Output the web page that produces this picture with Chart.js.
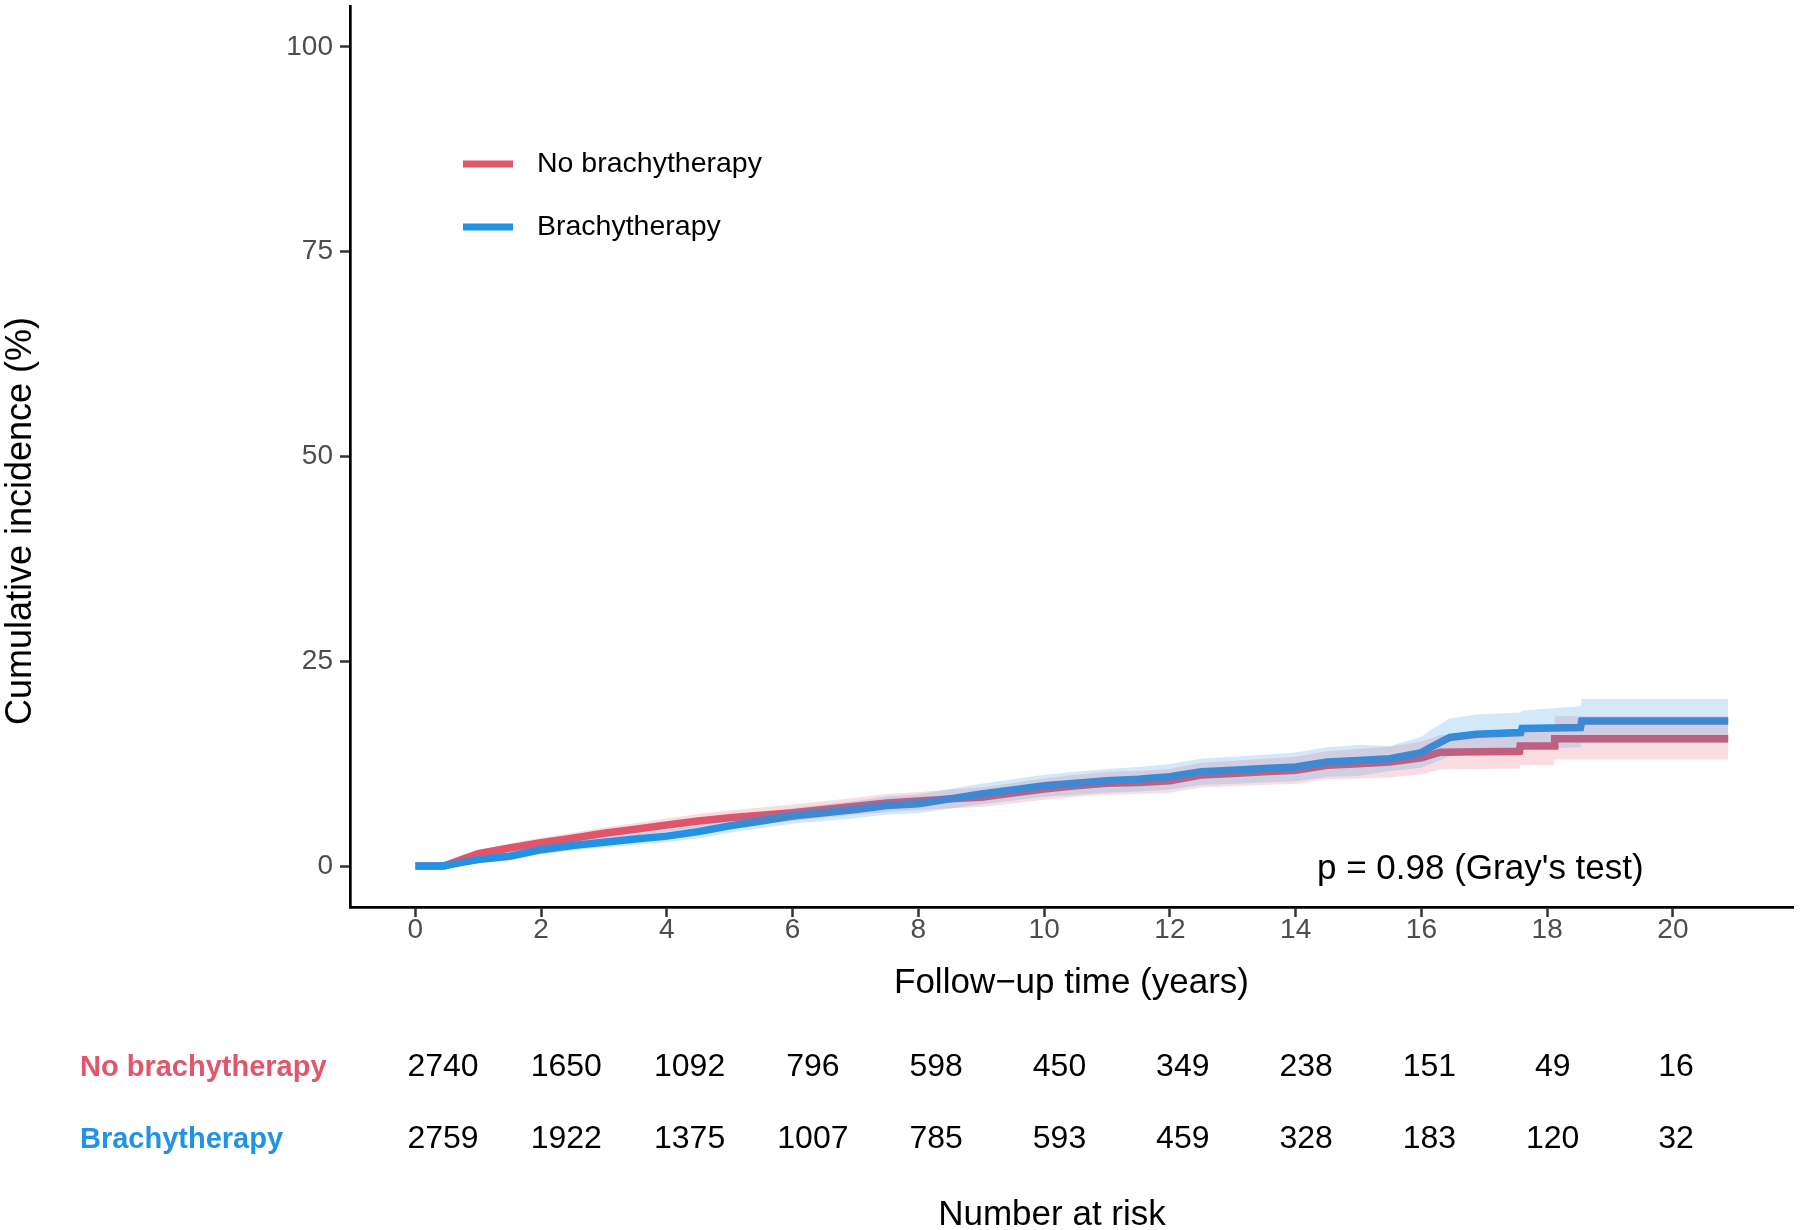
<!DOCTYPE html>
<html lang="en">
<head>
  <meta charset="UTF-8" />
  <title>Cumulative incidence by brachytherapy</title>
  <script src="https://cdn.jsdelivr.net/npm/chart.js"></script>
  <style>
    html, body { margin: 0; padding: 0; background: #fff; }
    #wrap { width: 1800px; height: 1230px; }
  </style>
</head>
<body>
<div id="wrap">
  <canvas id="cif" width="1800" height="1230"></canvas>
</div>

<script>
  // Data (years, cumulative incidence in %)
  // tail points come in pairs where the curve jumps
  const timeNoBrachy = [0, 0.45, 0.7, 1, 1.5, 2, 2.5, 3, 3.5, 4, 4.5, 5, 5.5, 6, 6.5, 7, 7.5, 8, 8.5, 9, 9.5, 10, 10.5, 11, 11.5, 12, 12.5, 13, 13.5, 14, 14.5, 15, 15.5, 16, 16.3, 17.56, 17.57, 18.11, 18.12, 20.88];
  const cifNoBrachy  = [0, 0, 0.7, 1.5, 2.2, 2.85, 3.4, 4.0, 4.5, 5.0, 5.5, 5.9, 6.2, 6.5, 6.9, 7.3, 7.7, 7.95, 8.2, 8.4, 8.9, 9.4, 9.8, 10.1, 10.2, 10.4, 11.1, 11.3, 11.5, 11.7, 12.3, 12.5, 12.7, 13.2, 13.9, 14.0, 14.65, 14.65, 15.55, 15.55];
  const lowNoBrachy  = [0, 0, 0.4, 1.05, 1.65, 2.25, 2.75, 3.3, 3.75, 4.2, 4.65, 5.0, 5.25, 5.5, 5.9, 6.25, 6.6, 6.85, 7.05, 7.2, 7.65, 8.1, 8.45, 8.7, 8.8, 8.95, 9.6, 9.75, 9.9, 10.05, 10.6, 10.7, 10.8, 11.2, 11.8, 11.9, 12.35, 12.35, 13.0, 13.0];
  const highNoBrachy = [0, 0, 1.0, 1.95, 2.75, 3.45, 4.05, 4.7, 5.25, 5.8, 6.35, 6.8, 7.15, 7.5, 7.9, 8.35, 8.8, 9.05, 9.35, 9.6, 10.15, 10.7, 11.15, 11.5, 11.6, 11.85, 12.6, 12.85, 13.1, 13.35, 14.0, 14.3, 14.6, 15.2, 16.0, 16.2, 16.95, 16.95, 18.3, 18.3];

  const timeBrachy = [0, 0.45, 0.7, 1, 1.5, 2, 2.5, 3, 3.5, 4, 4.5, 5, 5.5, 6, 6.5, 7, 7.5, 8, 8.5, 9, 9.5, 10, 10.5, 11, 11.5, 12, 12.5, 13, 13.5, 14, 14.5, 15, 15.5, 16, 16.15, 16.45, 16.88, 17.58, 17.6, 18.53, 18.55, 20.88];
  const cifBrachy  = [0, 0, 0.4, 0.8, 1.2, 2.0, 2.5, 2.9, 3.3, 3.65, 4.2, 4.9, 5.5, 6.1, 6.5, 6.9, 7.4, 7.6, 8.2, 8.8, 9.3, 9.8, 10.1, 10.4, 10.6, 10.9, 11.5, 11.7, 11.9, 12.1, 12.7, 12.9, 13.1, 13.85, 14.5, 15.7, 16.1, 16.3, 16.8, 16.9, 17.7, 17.7];
  const lowBrachy  = [0, 0, 0.15, 0.45, 0.75, 1.45, 1.9, 2.25, 2.6, 2.9, 3.4, 4.05, 4.6, 5.15, 5.5, 5.85, 6.3, 6.45, 7.0, 7.55, 8.0, 8.45, 8.7, 8.95, 9.1, 9.35, 9.9, 10.05, 10.2, 10.35, 10.9, 11.0, 11.6, 12.0, 12.5, 13.4, 13.7, 13.9, 14.3, 14.5, 15.0, 15.0];
  const highBrachy = [0, 0, 0.65, 1.2, 1.7, 2.6, 3.1, 3.55, 4.0, 4.4, 5.0, 5.75, 6.4, 7.05, 7.5, 7.95, 8.5, 8.75, 9.4, 10.05, 10.6, 11.15, 11.5, 11.85, 12.1, 12.45, 13.1, 13.35, 13.6, 13.85, 14.5, 14.8, 14.65, 15.8, 16.6, 18.0, 18.5, 18.75, 19.0, 19.5, 20.4, 20.4];

  const xTicks = [0, 2, 4, 6, 8, 10, 12, 14, 16, 18, 20];
  const yTicks = [0, 25, 50, 75, 100];

  const groups = ['No brachytherapy', 'Brachytherapy'];
  const riskNoBrachy = [2740, 1650, 1092, 796, 598, 450, 349, 238, 151, 49, 16];
  const riskBrachy   = [2759, 1922, 1375, 1007, 785, 593, 459, 328, 183, 120, 32];

  const RED = '#E2566B';
  const BLUE = '#2193E6';
  const RED_BAND = 'rgba(226, 86, 107, 0.2)';
  const BLUE_BAND = 'rgba(33, 147, 230, 0.2)';
  const FONT = '"Liberation Sans", Arial, sans-serif';

  const pts = (ts, vs) => ts.map((t, i) => ({ x: t, y: vs[i] }));

  const lineBase = { tension: 0, pointRadius: 0, borderCapStyle: 'butt', borderJoinStyle: 'miter', fill: false };
  const bandBase = { tension: 0, pointRadius: 0, borderWidth: 0, borderColor: 'rgba(0,0,0,0)' };

  // text layers: legend, test, y title, risk table
  const annotations = {
    id: 'annotations',
    afterDraw(chart) {
      const ctx = chart.ctx;
      ctx.save();

      // legend
      [[RED, groups[0], 164], [BLUE, groups[1], 227]].forEach(([col, label, y]) => {
        ctx.strokeStyle = col;
        ctx.lineWidth = 7;
        ctx.lineCap = 'butt';
        ctx.beginPath();
        ctx.moveTo(463, y);
        ctx.lineTo(513, y);
        ctx.stroke();
        ctx.fillStyle = '#000';
        ctx.font = '28.5px ' + FONT;
        ctx.textAlign = 'left';
        ctx.textBaseline = 'middle';
        ctx.fillText(label, 537, y);
      });

      // p value
      ctx.font = '35px ' + FONT;
      ctx.fillStyle = '#000';
      ctx.textAlign = 'left';
      ctx.textBaseline = 'alphabetic';
      ctx.fillText("p = 0.98 (Gray's test)", 1317, 879);

      // y axis title
      ctx.save();
      ctx.translate(21, 521);
      ctx.rotate(-Math.PI / 2);
      ctx.textAlign = 'center';
      ctx.textBaseline = 'middle';
      ctx.font = '36px ' + FONT;
      ctx.fillText('Cumulative incidence (%)', 0, 0);
      ctx.restore();

      // number at risk table
      const riskLeft = 443, riskStep = 123.3;
      const rows = [[groups[0], RED, riskNoBrachy, 1076], [groups[1], BLUE, riskBrachy, 1148]];
      rows.forEach(([label, col, vals, y]) => {
        ctx.font = 'bold 29px ' + FONT;
        ctx.fillStyle = col;
        ctx.textAlign = 'left';
        ctx.fillText(label, 80, y);
        ctx.font = '32px ' + FONT;
        ctx.fillStyle = '#000';
        ctx.textAlign = 'center';
        vals.forEach((v, i) => ctx.fillText(String(v), riskLeft + i * riskStep, y));
      });
      ctx.font = '35px ' + FONT;
      ctx.textAlign = 'center';
      ctx.fillText('Number at risk', 1052, 1225);

      ctx.restore();
    }
  };

  new Chart(document.getElementById('cif'), {
    type: 'line',
    data: {
      datasets: [
        { ...lineBase, label: groups[0], data: pts(timeNoBrachy, cifNoBrachy), borderColor: RED, borderWidth: 7.5, order: 4 },
        { ...lineBase, label: groups[1], data: pts(timeBrachy, cifBrachy), borderColor: BLUE, borderWidth: 7.5, order: 3 },
        { ...bandBase, label: 'NB upper', data: pts(timeNoBrachy, highNoBrachy), fill: '+1', backgroundColor: RED_BAND, order: 2 },
        { ...bandBase, label: 'NB lower', data: pts(timeNoBrachy, lowNoBrachy), fill: false, order: 2 },
        { ...bandBase, label: 'B upper', data: pts(timeBrachy, highBrachy), fill: '+1', backgroundColor: BLUE_BAND, order: 1 },
        { ...bandBase, label: 'B lower', data: pts(timeBrachy, lowBrachy), fill: false, order: 1 }
      ]
    },
    options: {
      responsive: false,
      animation: false,
      layout: { padding: { top: 6, right: 7, left: 0, bottom: 213 } },
      plugins: {
        legend: { display: false },
        tooltip: { enabled: false }
      },
      scales: {
        x: {
          type: 'linear',
          position: 'bottom',
          min: -1.04,
          max: 21.91,
          afterBuildTicks: s => { s.ticks = xTicks.map(v => ({ value: v })); },
          afterFit: s => { s.height = 110; s.paddingLeft = 0; s.paddingRight = 0; },
          ticks: { font: { family: FONT, size: 28 }, color: '#4D4D4D', padding: -4, maxRotation: 0, autoSkip: false },
          grid: { display: true, drawOnChartArea: false, drawTicks: true, tickLength: 10, tickColor: '#333', tickWidth: 2.5 },
          border: { display: true, color: '#000', width: 2.7 },
          title: { display: true, text: 'Follow\u2212up time (years)', color: '#000', font: { family: FONT, size: 35 }, padding: { top: 0, bottom: 13 } }
        },
        y: {
          type: 'linear',
          min: -5,
          max: 105,
          afterBuildTicks: s => { s.ticks = yTicks.map(v => ({ value: v })); },
          afterFit: s => { s.width = 350; s.paddingTop = 0; s.paddingBottom = 0; },
          ticks: { font: { family: FONT, size: 28 }, color: '#4D4D4D', padding: 7 },
          grid: { display: true, drawOnChartArea: false, drawTicks: true, tickLength: 10, tickColor: '#333', tickWidth: 2.5 },
          border: { display: true, color: '#000', width: 2.7 }
        }
      }
    },
    plugins: [annotations]
  });
</script>
</body>
</html>
